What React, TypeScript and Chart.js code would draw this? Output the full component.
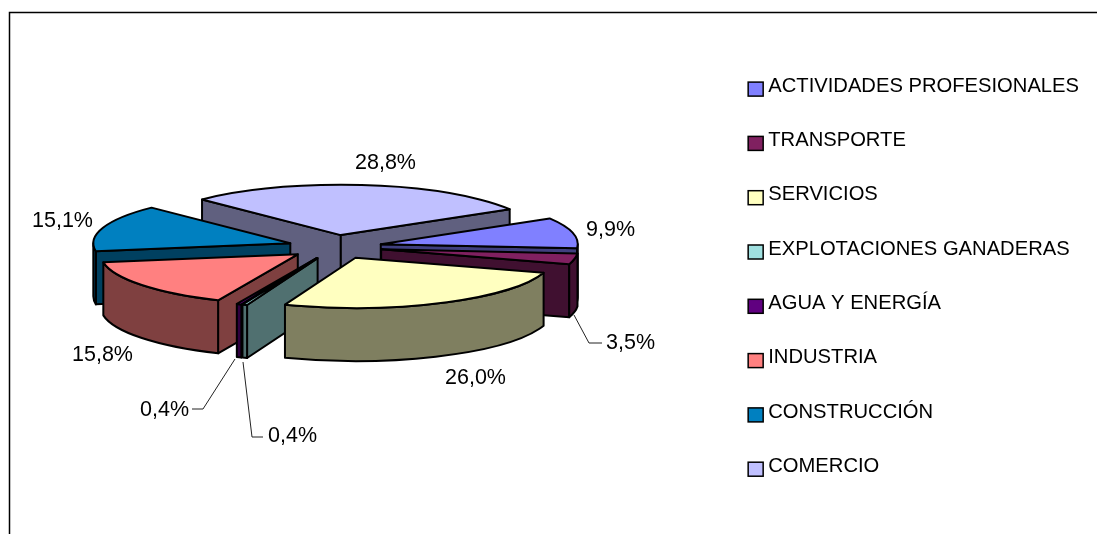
import { useEffect, useRef } from "react";
import { Chart, registerables } from "chart.js";

Chart.register(...registerables);

const categories = [
  "ACTIVIDADES PROFESIONALES",
  "TRANSPORTE",
  "SERVICIOS",
  "EXPLOTACIONES GANADERAS",
  "AGUA Y ENERGÍA",
  "INDUSTRIA",
  "CONSTRUCCIÓN",
  "COMERCIO",
];
const shares = [9.9, 3.5, 26.0, 0.4, 0.4, 15.8, 15.1, 28.8];
const colors = ["#8080FF", "#802060", "#FFFFC0", "#A0E0E0", "#600080", "#FF8080", "#0080C0", "#C0C0FF"];

// back-to-front painting order of the slices
const paintOrder = [7, 6, 0, 1, 5, 4, 3, 2];

// centre of each percentage label on the page, by slice
const labelCentres: [number, number][] = [
  [610.5, 230], [630.5, 343], [475.5, 378], [292.5, 436], [164.5, 410], [102.5, 355], [62.5, 221], [385.5, 163],
];
// leader lines, by slice
const leaders: Record<number, [number, number][]> = {
  1: [[574, 315], [589, 343], [602, 343]],
  3: [[243, 362], [252, 437], [263, 437]],
  4: [[235, 359], [203, 409], [192, 409]],
};

const FONT = '"Liberation Sans", Arial, sans-serif';
const CX = 335;
const CY = 247;
const TILT = 0.255;
const RADIUS = 197;
const EXPLODE = 47;
const DEPTH = 53;

const darken = (hex: string) => {
  const n = parseInt(hex.slice(1), 16);
  const c = [(n >> 16) & 255, (n >> 8) & 255, n & 255].map((v) => v >> 1);
  return `rgb(${c[0]},${c[1]},${c[2]})`;
};

const pie3d = {
  id: "pie3d",
  beforeDraw(chart: any) {
    const { ctx } = chart;
    ctx.save();
    ctx.strokeStyle = "#000";
    ctx.lineWidth = 1.5;
    ctx.beginPath();
    ctx.moveTo(9.5, 540);
    ctx.lineTo(9.5, 12.5);
    ctx.lineTo(1100, 12.5);
    ctx.stroke();
    ctx.restore();
  },
  beforeDatasetDraw(chart: any, args: any) {
    const { ctx } = chart;
    const arcs = args.meta.data;
    ctx.save();
    ctx.lineJoin = "round";
    ctx.strokeStyle = "#000";
    ctx.lineWidth = 2;
    for (const i of paintOrder) {
      const arc = arcs[i];
      const a0: number = arc.startAngle;
      const a1: number = arc.endAngle;
      const R: number = arc.outerRadius;
      const ry = R * TILT;
      const mid = (a0 + a1) / 2;
      const ax = CX + EXPLODE * Math.cos(mid);
      const ay = CY + EXPLODE * TILT * Math.sin(mid);
      const px = (a: number) => ax + R * Math.cos(a);
      const py = (a: number) => ay + ry * Math.sin(a);
      const wall = darken(colors[i]);
      ctx.fillStyle = wall;

      const face = (a: number) => {
        ctx.beginPath();
        ctx.moveTo(ax, ay);
        ctx.lineTo(px(a), py(a));
        ctx.lineTo(px(a), py(a) + DEPTH);
        ctx.lineTo(ax, ay + DEPTH);
        ctx.closePath();
        ctx.fill();
        ctx.stroke();
      };
      if (Math.cos(a0) < 0) face(a0);
      if (Math.cos(a1) > 0) face(a1);

      // visible part of the outer rim
      const turns = [0, 2 * Math.PI, -2 * Math.PI];
      for (const t of turns) {
        const b0 = Math.max(a0 + t, 0);
        const b1 = Math.min(a1 + t, Math.PI);
        if (b1 > b0) {
          ctx.beginPath();
          ctx.ellipse(ax, ay, R, ry, 0, b0, b1);
          ctx.lineTo(px(b1), py(b1) + DEPTH);
          ctx.ellipse(ax, ay + DEPTH, R, ry, 0, b1, b0, true);
          ctx.closePath();
          ctx.fill();
          ctx.stroke();
        }
      }

      // the top surface is the library's own arc element, tilted
      ctx.save();
      ctx.translate(ax, ay);
      ctx.scale(1, TILT);
      ctx.translate(-arc.x, -arc.y);
      arc.draw(ctx);
      ctx.restore();

      ctx.beginPath();
      ctx.moveTo(ax, ay);
      ctx.ellipse(ax, ay, R, ry, 0, a0, a1);
      ctx.closePath();
      ctx.stroke();
    }
    ctx.restore();
    return false;
  },
  afterDraw(chart: any) {
    const { ctx } = chart;
    ctx.save();
    // leader lines
    ctx.strokeStyle = "#222";
    ctx.lineWidth = 1;
    Object.values(leaders).forEach((pts) => {
      ctx.beginPath();
      pts.forEach(([x, y], k) => (k ? ctx.lineTo(x, y) : ctx.moveTo(x, y)));
      ctx.stroke();
    });
    // percentage labels
    ctx.fillStyle = "#000";
    ctx.font = `21.5px ${FONT}`;
    ctx.textAlign = "center";
    ctx.textBaseline = "middle";
    shares.forEach((v, i) => {
      const [x, y] = labelCentres[i];
      ctx.fillText(`${v.toFixed(1).replace(".", ",")}%`, x, y);
    });
    // legend swatches, wider than the gap the legend leaves for them
    const legend = chart.legend;
    legend.legendHitBoxes.forEach((box: any, i: number) => {
      ctx.fillStyle = colors[i];
      ctx.strokeStyle = "#000";
      ctx.lineWidth = 1.5;
      ctx.fillRect(box.left, box.top + 6, 15, 14);
      ctx.strokeRect(box.left, box.top + 6, 15, 14);
    });
    ctx.restore();
  },
};

export default function App() {
  const ref = useRef<HTMLCanvasElement>(null);
  useEffect(() => {
    document.body.style.margin = "0";
    const chart = new Chart(ref.current!, {
      type: "pie",
      data: {
        labels: categories,
        datasets: [{ data: shares, backgroundColor: colors, borderWidth: 0, clip: false } as any],
      },
      options: {
        animation: false,
        responsive: false,
        events: [],
        rotation: 59,
        radius: RADIUS,
        layout: { padding: { top: 42, right: 8 } },
        plugins: {
          tooltip: { enabled: false },
          legend: {
            position: "right",
            align: "start",
            labels: {
              boxWidth: 10,
              boxHeight: 1,
              padding: 34.1,
              color: "#000",
              font: { family: FONT, size: 20.2 },
            },
          },
        },
      } as any,
      plugins: [pie3d],
    });
    return () => chart.destroy();
  }, []);
  return <canvas ref={ref} width={1097} height={534} style={{ display: "block" }} />;
}
